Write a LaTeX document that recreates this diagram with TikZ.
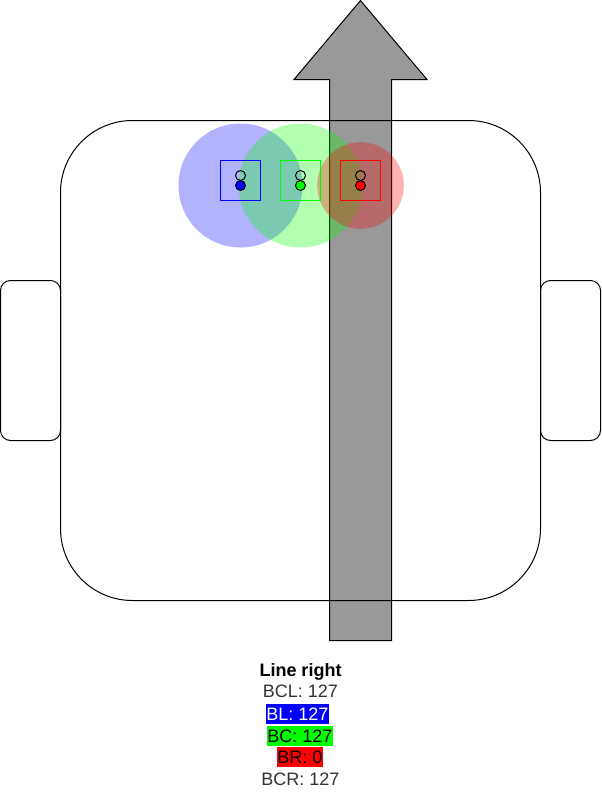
\documentclass[tikz,border=0pt]{standalone}
\usepackage{fontspec}
\setmainfont{Liberation Sans}
\definecolor{arrowgray}{HTML}{999999}
\definecolor{textgray}{HTML}{333333}
\tikzset{
    sensor/.style={fill=#1, fill opacity=.3, draw=none},
    sensorbox/.style={draw=#1, line width=.75pt},
    readout/.style={inner sep=0pt, minimum height=15pt, font=\fontsize{13.5}{16}\selectfont, text=textgray}
}
\begin{document}
\begin{tikzpicture}[x=.75pt, y=-.75pt, line width=.75pt]
\useasboundingbox (0,0) rectangle (601,801);

% line
\draw[fill=arrowgray](360.5,.5)--(427,79.5)--(391.5,79.5)--(391.5,640.5)--(329.5,640.5)--(329.5,79.5)--(294,79.5)--cycle;

% body and wheels
\draw[rounded corners=54pt](60.5,120.5) rectangle (540.5,600.5);
\draw[rounded corners=7.5pt](.5,280.5) rectangle (60.5,440.5);
\draw[rounded corners=7.5pt](540.5,280.5) rectangle (600.5,440.5);

% sensors
\fill[sensor=blue](240.5,185.5)circle (46.5pt);
\fill[sensor=green](300.5,185.5)circle (46.5pt);
\fill[sensor=red](360.5,185.5)circle (32.5pt);

\foreach \x/\c in {240.5/blue,300.5/green,360.5/red}
{
    \draw[sensorbox=\c](\x-20,160.5) rectangle (\x+20,200.5);
    \draw(\x,175.5)circle (3.75pt);
    \draw[fill=\c](\x,185.5)circle (3.75pt);
}

% readings
\node[readout, text=black, font=\fontsize{13.5}{16}\selectfont\bfseries] (title) at (300.5,671.5) {Line right};
\node[readout] (bcl) at (300.5,691.5) {BCL: 127};
\node[readout, fill=blue, text=white, minimum width=47.25pt] (bl) at (297.5,714) {BL: 127};
\node[readout, fill=green, text=black, minimum width=49.5pt] (bc) at (300,736) {BC: 127};
\node[readout, fill=red, text=black, minimum width=34.5pt] (br) at (300,757) {BR: 0};
\node[readout] (bcr) at (300.5,779) {BCR: 127};
\end{tikzpicture}
\end{document}
